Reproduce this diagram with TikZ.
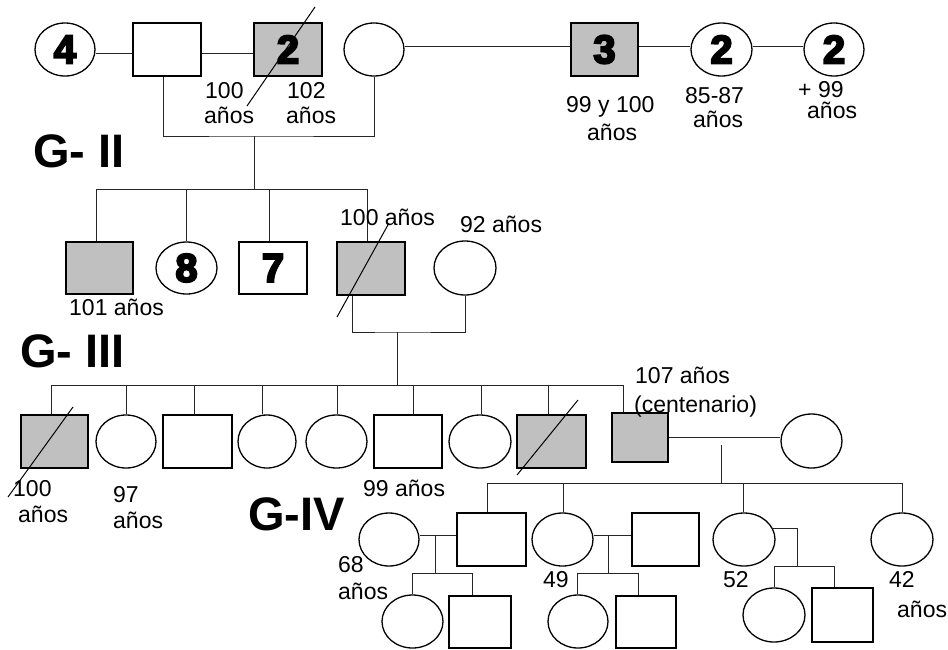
\documentclass[tikz,border=0pt]{standalone}
\usepackage{fontspec}
\setmainfont{Liberation Sans}
\newfontfamily\numfont[FakeBold=5]{Liberation Sans Bold}
\usetikzlibrary{shapes.geometric}
\definecolor{silver}{RGB}{192,192,192}
\tikzset{
  shp/.style={draw=black, line width=1.3pt, inner sep=0pt, font=\numfont\fontsize{40}{40}\selectfont},
  sq/.style 2 args={shp, rectangle, minimum width=#1pt, minimum height=#2pt},
  gsq/.style 2 args={sq={#1}{#2}, fill=silver},
  ci/.style 2 args={shp, ellipse, minimum width=#1pt, minimum height=#2pt},
  con/.style={line width=1pt, draw=black!85},
  slash/.style={line width=1pt, draw=black},
  lab/.style={inner sep=0pt, anchor=base west, font=\fontsize{23}{27}\selectfont},
  gen/.style={inner sep=0pt, anchor=base west, font=\bfseries\fontsize{47}{50}\selectfont},
}
\begin{document}
\begin{tikzpicture}[x=1pt,y=-1pt]
\useasboundingbox (0,0) rectangle (948,649);
% ---------- G-I row
\node[ci={60}{53}] (c4) at (65,49.5) {4};
\node[sq={68}{53}] (s1) at (167,49.5) {};
\node[gsq={68}{53}] (s2) at (288,49.5) {2};
\node[ci={60}{53}] (c1) at (374,49.5) {};
\node[gsq={67}{53}] (s3) at (604.5,49.5) {3};
\node[ci={61}{53}] (c2a) at (721.5,49.5) {2};
\node[ci={60}{53}] (c2b) at (834,49.5) {2};
\draw[con] ([yshift=-3.5pt]c4.east) -- ([yshift=-3.5pt]s1.west);
\draw[con] ([yshift=-3.5pt]s1.east) -- ([yshift=-3.5pt]s2.west);
\draw[con] ([yshift=3.5pt]c1.east) -- ([yshift=3.5pt]s3.west);
\draw[con] ([yshift=3.5pt]s3.east) -- ([yshift=3.5pt]c2a.west);
\draw[con] ([yshift=3.5pt]c2a.east) -- ([yshift=3.5pt]c2b.west);
\coordinate (m1) at (254,136);
\coordinate (sib2) at (254,189);
\draw[con] ([xshift=-4pt]s1.south) |- (m1) -| (c1.south);
\draw[con] (m1) -- (sib2);
\node[lab] (t1a) at (205,98) {100};
\node[lab] (t1b) at (204,123) {años};
\node[lab] (t2a) at (287,98) {102};
\node[lab] (t2b) at (286,123) {años};
\node[lab] (t3a) at (566,112) {99 y 100};
\node[lab] (t3b) at (587,140) {años};
\node[lab] (t4a) at (685,103) {85-87};
\node[lab] (t4b) at (693,127) {años};
\node[lab] (t5a) at (798,97) {+ 99};
\node[lab] (t5b) at (807,118) {años};
\draw[slash] (315,7) -- (247,106);
% ---------- G-II
\node[gen] (g2) at (33,167) {G- II};
\node[gsq={67}{52}] (a1) at (99.5,268) {};
\node[ci={61}{52}] (a2) at (186.5,268) {8};
\node[sq={68}{52}] (a3) at (273,268) {7};
\node[gsq={68}{53}] (a4) at (371,268.5) {};
\node[ci={62}{54}] (a5) at (465,268) {};
\draw[con] (96,189) -- (367,189);
\foreach \x/\n in {96/a1,186/a2,269/a3,367/a4}
  \draw[con] (\x,189) -- (\x,189 |- \n.north);
\coordinate (m2) at (397,332);
\coordinate (sib3) at (397,385);
\draw[con] ([xshift=-19pt]a4.south) |- (m2) -| (a5.south);
\draw[con] (m2) -- (sib3);
\node[lab] (t6) at (69,315) {101 años};
\node[lab] (t7) at (340,225) {100 años};
\node[lab] (t8) at (460,232) {92 años};
\draw[slash] (389,223) -- (337,317);
% ---------- G-III
\node[gen] (g3) at (20,367) {G- III};
\node[gsq={67}{53}] (b1) at (54.5,441.5) {};
\node[ci={60}{53}] (b2) at (126,441.5) {};
\node[sq={69}{53}] (b3) at (197.5,441.5) {};
\node[ci={58}{53}] (b4) at (267,441.5) {};
\node[ci={61}{53}] (b5) at (336.5,441.5) {};
\node[sq={68}{53}] (b6) at (408,441.5) {};
\node[ci={62}{53}] (b7) at (480,441.5) {};
\node[gsq={69}{53}] (b8) at (551.5,441.5) {};
\node[gsq={56}{49}, line width=2pt] (b9) at (640,437.5) {};
\node[ci={61}{54}] (b10) at (811.5,441) {};
\draw[con] (51,385) -- (623,385);
\foreach \x/\n in {51/b1,126/b2,194/b3,262/b4,337/b5,413/b6,481/b7,548/b8,623/b9}
  \draw[con] (\x,385) -- (\x,385 |- \n.north);
\draw[con] (b9.east) -- (b9.east -| b10.west);
\coordinate (m3) at (721,445);
\coordinate (sib4) at (721,483);
\draw[con] (m3) -- (sib4);
\node[lab] (t9a) at (13,496) {100};
\node[lab] (t9b) at (18,522) {años};
\node[lab] (t10a) at (113,502) {97};
\node[lab] (t10b) at (113,528) {años};
\node[lab] (t11) at (363,496) {99 años};
\node[lab] (t12a) at (635,383) {107 años};
\node[lab] (t12b) at (634,412) {(centenario)};
\draw[slash] (73,407) -- (8,497);
\draw[slash] (578,400) -- (517,475);
% ---------- G-IV
\node[gen] (g4) at (248,530) {G-IV};
\node[ci={60}{53}] (d1) at (389,539.5) {};
\node[sq={69}{53}] (d2) at (491.5,539.5) {};
\node[ci={61}{53}] (d3) at (562.5,539.5) {};
\node[sq={67}{53}] (d4) at (665.5,539.5) {};
\node[ci={62}{53}] (d5) at (744,539.5) {};
\node[ci={62}{53}] (d6) at (902,539.5) {};
\draw[con] (487,483) -- (903,483);
\foreach \x/\n in {487/d2,563/d3,743/d5,902/d6}
  \draw[con] (\x,483) -- (\x,483 |- \n.north);
\draw[con] ([yshift=4.5pt]d1.east) -- ([yshift=4.5pt]d2.west);
\draw[con] ([yshift=4.5pt]d3.east) -- ([yshift=4.5pt]d4.west);
% grandchildren
\node[ci={61}{53}] (e1) at (412.5,621.5) {};
\node[sq={62}{52}] (e2) at (480,622) {};
\node[ci={60}{53}] (e3) at (578,621.5) {};
\node[sq={60}{52}] (e4) at (646,622) {};
\node[ci={62}{54}] (e5) at (774,615) {};
\node[sq={61}{54}] (e6) at (842.5,615) {};
\draw[con] (435,535) -- (435,573);
\draw[con] (412,573) -- (472,573);
\foreach \x/\n in {412/e1,472/e2}
  \draw[con] (\x,573) -- (\x,573 |- \n.north);
\draw[con] (608,535) -- (608,573);
\draw[con] (577,573) -- (638,573);
\foreach \x/\n in {577/e3,638/e4}
  \draw[con] (\x,573) -- (\x,573 |- \n.north);
\draw[con] (d5.20) -| (797,566);
\draw[con] (774,566) -- (834,566);
\foreach \x/\n in {774/e5,834/e6}
  \draw[con] (\x,566) -- (\x,566 |- \n.north);
\node[lab] (t13a) at (338,572) {68};
\node[lab] (t13b) at (338,599) {años};
\node[lab] (t14) at (543,587) {49};
\node[lab] (t15) at (723,587) {52};
\node[lab] (t16a) at (889,587) {42};
\node[lab] (t16b) at (897,617) {años};
\end{tikzpicture}
\end{document}
